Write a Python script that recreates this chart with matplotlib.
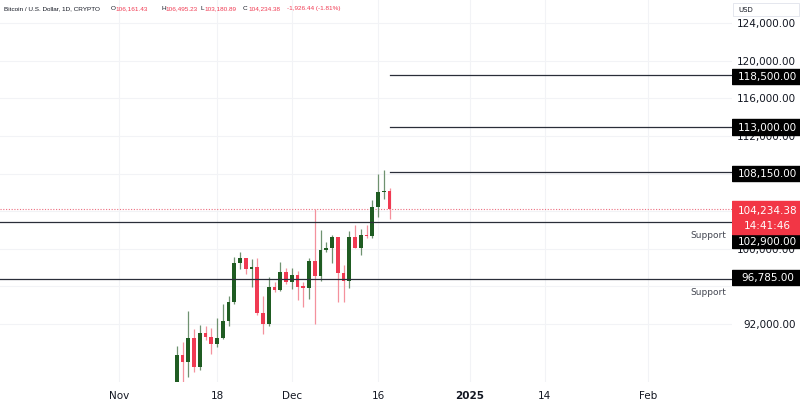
import matplotlib
matplotlib.use('Agg')
import matplotlib.pyplot as plt
import matplotlib.dates as mdates
from matplotlib.patches import Rectangle
import numpy as np
import pandas as pd

# daily candles, Nov 11 - Dec 18 2024
dates = pd.date_range('2024-11-11', '2024-12-18', freq='D')
opens = [80370, 88700, 87960, 90500, 87370, 91060, 90600, 89860, 90500, 92340,
         94300, 98450, 99010, 97840, 98020, 93160, 91990, 95890, 95650, 97490,
         96500, 97190, 95990, 95850, 98700, 97130, 99900, 100040, 101210, 97380,
         96600, 101210, 100040, 101460, 101400, 104420, 106080, 106161.43]
highs = [89680, 90100, 93400, 91450, 91900, 91800, 91600, 92590, 94100, 95000,
         99080, 99620, 99010, 98900, 99010, 95000, 96950, 96420, 98620, 97920,
         97920, 97670, 96430, 99000, 104230, 102030, 100750, 101490, 101210, 98290,
         101900, 102570, 102100, 102570, 105230, 107950, 108350, 106495.23]
lows = [80200, 85100, 86300, 86840, 87100, 90300, 88790, 89500, 90400, 91800,
        94100, 97840, 97310, 95960, 92900, 90920, 91800, 95360, 95500, 96300,
        95720, 94580, 93770, 94700, 92000, 96600, 99700, 98510, 94380, 94360,
        95800, 100040, 99350, 101200, 101200, 103350, 105300, 103180.89]
closes = [88700, 87960, 90500, 87370, 91060, 90600, 89860, 90500, 92340, 94300,
          98450, 99010, 97840, 98020, 93160, 91990, 95890, 95650, 97490, 96500,
          97190, 95890, 95850, 98700, 97130, 99900, 100040, 101210, 97380, 96600,
          101210, 100040, 101460, 101400, 104420, 106080, 106161.43, 104234.38]

resistances = [118500, 113000, 108150]
supports = [102900, 96785]
last_price = 104234.38
grid_ticks = [124000, 120000, 116000, 112000, 108000, 104000, 100000, 96000, 92000]
label_ticks = [124000, 120000, 116000, 112000, 100000, 92000]
date_ticks = ['2024-11-01', '2024-11-18', '2024-12-01', '2024-12-16', '2025-01-01', '2025-01-14', '2025-02-01']
date_labels = ['Nov', '18', 'Dec', '16', '2025', '14', 'Feb']

GREEN = '#1f5c22'
GREEN_WICK = '#6f9270'
RED = '#f03a52'
RED_WICK = '#f4919d'
TXT = '#131722'

W, H = 800, 406
fig = plt.figure(figsize=(8, 4.06), dpi=100)
fig.patch.set_facecolor('white')
ax_right = 732 / W
ax_bottom = (H - 383) / H
ax = fig.add_axes([0, ax_bottom, ax_right, 1 - ax_bottom])
axp = fig.add_axes([ax_right, ax_bottom, 1 - ax_right, 1 - ax_bottom], sharey=ax)

x = mdates.date2num(dates)
d16 = mdates.date2num(pd.Timestamp('2024-12-16'))
px_day = 5.75
ax.set_xlim(d16 - 378 / px_day, d16 + (732 - 378) / px_day)
ax.set_ylim(85820, 126590)

# grid
for t in date_ticks:
    ax.axvline(mdates.date2num(pd.Timestamp(t)), color='#f2f3f6', lw=0.8, zorder=0)
for p in grid_ticks:
    ax.axhline(p, color='#f2f3f6', lw=0.8, zorder=0)

# candles
bw = 0.64
for xi, o, h, l, c in zip(x, opens, highs, lows, closes):
    up = c >= o
    ax.vlines(xi, l, h, color=GREEN_WICK if up else RED_WICK, lw=0.9, zorder=2)
    lo, hi = min(o, c), max(o, c)
    if hi - lo < 120:
        hi = lo + 120
    ax.add_patch(Rectangle((xi - bw / 2, lo), bw, hi - lo, color=GREEN if up else RED, lw=0, zorder=3))

# levels
x_start = mdates.date2num(pd.Timestamp('2024-12-18')) + 0.1
for r in resistances:
    ax.plot([x_start, ax.get_xlim()[1]], [r, r], color='#2a2e39', lw=0.9, zorder=4)
for s in supports:
    ax.axhline(s, color='#2a2e39', lw=0.9, zorder=4)
    ax.text(0.992, s - 900, 'Support', transform=ax.get_yaxis_transform(), ha='right', va='top',
            fontsize=6.5, color='#434651')
ax.axhline(last_price, color='#ec6f80', lw=0.8, ls=(0, (1, 1.5)), zorder=1)

ax.set_xticks([mdates.date2num(pd.Timestamp(t)) for t in date_ticks])
ax.set_xticklabels(date_labels, fontsize=7.5, color=TXT)
for lab in ax.get_xticklabels():
    if lab.get_text() == '2025':
        lab.set_fontweight('bold')
ax.tick_params(axis='x', length=0, pad=6)
ax.tick_params(axis='y', left=False, labelleft=False)
for sp in ax.spines.values():
    sp.set_visible(False)

# price scale
axp.set_xlim(0, 1)
axp.axis('off')
for p in label_ticks:
    axp.text(0.94, p, f'{p:,.2f}', ha='right', va='center', fontsize=7.5, color=TXT, zorder=1)

ppx = (126590 - 85820) / 383.0


def ybox(top_px, bot_px):
    return 126590 - bot_px * ppx, (bot_px - top_px) * ppx


box_pos = {118500: (70, 85), 113000: (120, 136), 108150: (167, 182), 102900: (234, 249.5), 96785: (271, 286)}
for val, (t, b) in box_pos.items():
    y0, hgt = ybox(t, b)
    axp.add_patch(Rectangle((0, y0), 1, hgt, color='black', zorder=3))
    axp.text(0.52, y0 + hgt / 2, f'{val:,.2f}', ha='center', va='center', fontsize=7.5,
             color='white', zorder=4)

y0, hgt = ybox(202, 235)
axp.add_patch(Rectangle((0, y0), 1, hgt, color='#f23645', zorder=5))
axp.text(0.52, y0 + hgt * 0.74, f'{last_price:,.2f}', ha='center', va='center', fontsize=7.5,
         color='white', zorder=6)
axp.text(0.52, y0 + hgt * 0.27, '14:41:46', ha='center', va='center', fontsize=7.5,
         color='white', zorder=6)

# USD tag
y0, hgt = ybox(4, 17)
axp.add_patch(Rectangle((0.02, y0), 0.96, hgt, fc='white', ec='#e0e3eb', lw=0.6, zorder=3))
axp.text(0.09, y0 + hgt / 2, 'USD', ha='left', va='center', fontsize=5, color=TXT, zorder=4)

# header
hy = 1 - 8.5 / H
pieces = [(4, 'Bitcoin / U.S. Dollar, 1D, CRYPTO', TXT), (111, 'O', TXT), (115, '106,161.43', RED),
          (161, 'H', TXT), (165, '106,495.23', RED), (201, 'L', TXT), (204, '103,180.89', RED),
          (243, 'C', TXT), (248, '104,234.38', RED), (287, '-1,926.44 (-1.81%)', RED)]
for px, s, col in pieces:
    fig.text(px / W, hy, s, fontsize=4.6, color=col, ha='left', va='center', family='Liberation Sans')

fig.savefig('out.png', dpi=100, facecolor='white')
